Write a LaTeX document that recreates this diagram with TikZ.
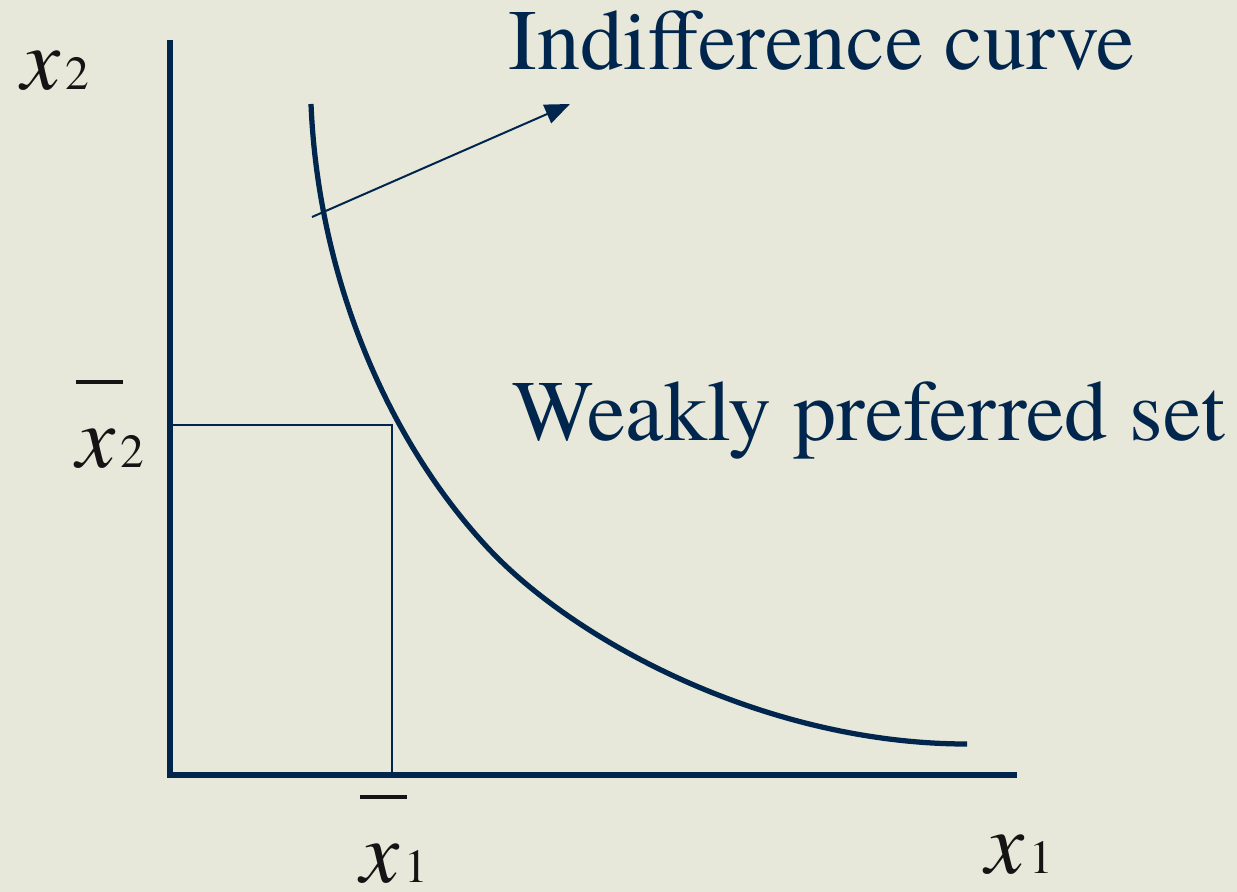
\documentclass[tikz,border=0pt]{standalone}
\usepackage{fontspec}
\setmainfont{TeX Gyre Termes}
\usetikzlibrary{arrows.meta, positioning, calc}
\definecolor{SlideNavy}{HTML}{00264D}
\definecolor{SlidePaper}{HTML}{E8E8DA}
\definecolor{LabelInk}{HTML}{141414}
% x with an index, and x with a bar over it
\newcommand{\goodx}[1]{{\fontsize{50}{60}\selectfont\textit{x}\kern2.5pt\fontsize{27}{32}\selectfont #1}}
\newcommand{\goodxbar}[1]{{\fontsize{50}{60}\selectfont\rlap{\rule[0.95em]{0.53em}{0.035em}}\textit{x}\kern2.5pt\fontsize{27}{32}\selectfont #1}}

\begin{document}
\begin{tikzpicture}[x=0.02cm, y=-0.02cm,
    axisline/.style={line width=0.11cm, color=SlideNavy, line join=miter},
    icurve/.style={line width=0.105cm, color=SlideNavy},
    guide/.style={line width=0.028cm, color=SlideNavy},
    pointer/.style={line width=0.04cm, color=SlideNavy, -{Triangle[length=0.5cm, width=0.4cm]}},
    bigtext/.style={anchor=base west, inner sep=0pt, color=SlideNavy, font=\fontsize{49}{57}\selectfont},
    axislabel/.style={anchor=base west, inner sep=0pt, color=LabelInk}]
    \useasboundingbox (0,0) rectangle (1237,892);
    \fill[SlidePaper] (0,0) rectangle (1237,892);

    % axes
    \coordinate (O) at (170,775);
    \coordinate (ytop) at (170,40);
    \coordinate (xend) at (1017,775);
    \draw[axisline] (ytop) -- (O) -- (xend);

    % the bundle and its box
    \coordinate (bundle) at (392,425);
    \draw[guide] (bundle -| O) -- (bundle) -- (bundle |- O);

    % indifference curve
    \coordinate (icstart) at (311,104);
    \coordinate (icmid) at (487,547);
    \coordinate (icend) at (967,744);
    \draw[icurve] (icstart) .. controls (318,274) and (385,437) .. (icmid)
                  .. controls (575,642) and (767,744) .. (icend);

    % arrow to the better bundles
    \coordinate (tail) at (312,217);
    \coordinate (tip) at (570,104);
    \draw[pointer] (tail) -- (tip);

    \node[bigtext] (ictext) at (508,70) {Indifference curve};
    \node[bigtext] (wptext) at (512,440) {Weakly preferred set};

    \node[axislabel] (xtwo) at (21,90) {\goodx{2}};
    \node[axislabel] (xtwobar) at (76,467) {\goodxbar{2}};
    \node[axislabel] (xonebar) at (360,882) {\goodxbar{1}};
    \node[axislabel] (xone) at (985,873) {\goodx{1}};
\end{tikzpicture}
\end{document}
